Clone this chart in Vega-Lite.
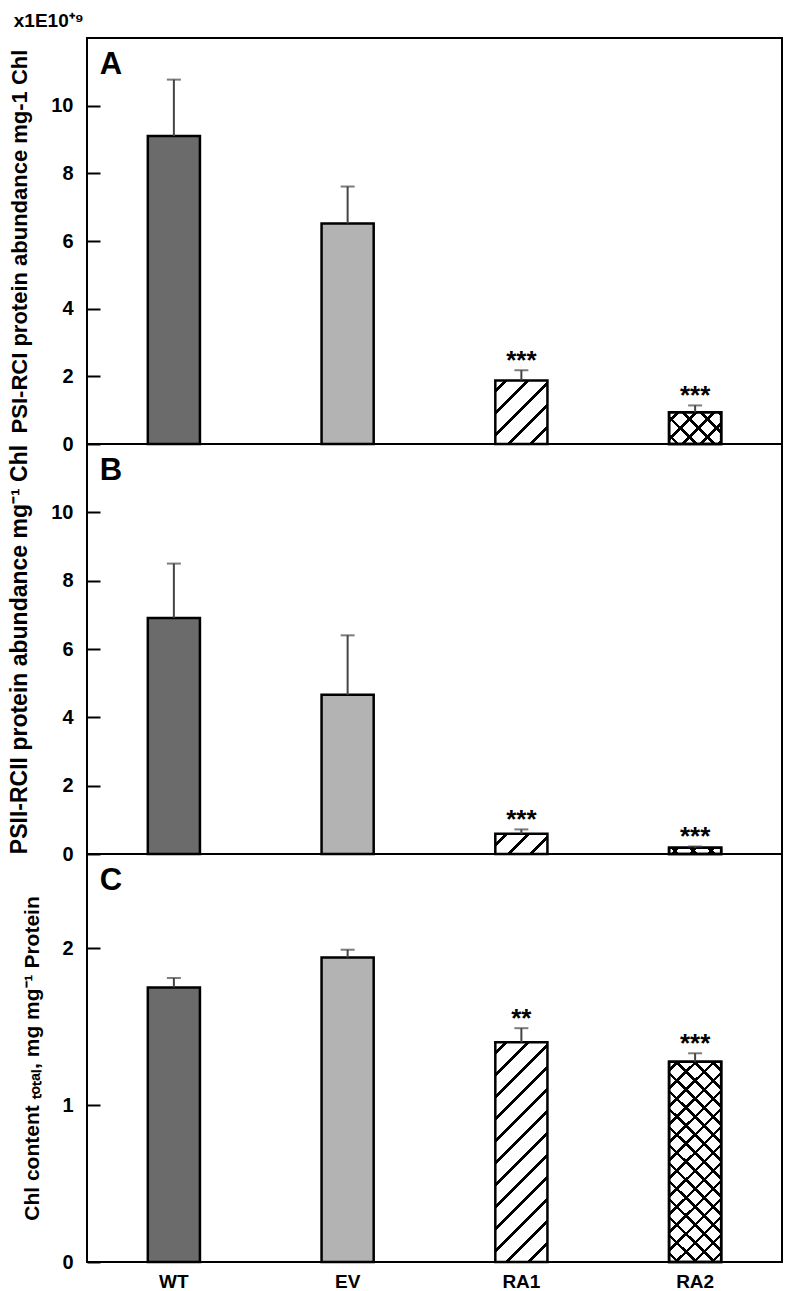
{
  "$schema": "https://vega.github.io/schema/vega-lite/v6.json",
  "padding": {"left": 7, "top": 12, "right": 8, "bottom": 2},
  "background": "white",
  "spacing": 0,
  "bounds": "flush",
  "title": {"text": "x1E10⁺⁹", "anchor": "start", "frame": "bounds", "fontSize": 19, "font": "Liberation Sans", "fontWeight": "bold", "color": "black", "offset": 6, "dx": 6},
  "config": {
    "font": "Liberation Sans",
    "view": {"stroke": "black", "strokeWidth": 2},
    "axis": {
      "labelFont": "Liberation Sans", "labelFontWeight": "bold", "labelFontSize": 20, "labelColor": "black",
      "titleFont": "Liberation Sans", "titleFontWeight": "bold", "titleFontSize": 21, "titleColor": "black",
      "domain": false, "grid": false, "tickColor": "black", "tickWidth": 2, "tickSize": -13, "labelPadding": 27, "titlePadding": 19
    }
  },
  "datasets": {
    "d": [
      {"panel": "A", "g": "WT", "v": 9.10, "e": 10.77, "sig": "", "lab": "A"},
      {"panel": "A", "g": "EV", "v": 6.52, "e": 7.61, "sig": "", "lab": ""},
      {"panel": "A", "g": "RA1", "v": 1.88, "e": 2.18, "sig": "***", "lab": ""},
      {"panel": "A", "g": "RA2", "v": 0.94, "e": 1.14, "sig": "***", "lab": ""},
      {"panel": "B", "g": "WT", "v": 6.91, "e": 8.50, "sig": "", "lab": "B"},
      {"panel": "B", "g": "EV", "v": 4.66, "e": 6.40, "sig": "", "lab": ""},
      {"panel": "B", "g": "RA1", "v": 0.59, "e": 0.72, "sig": "***", "lab": ""},
      {"panel": "B", "g": "RA2", "v": 0.18, "e": 0.22, "sig": "***", "lab": ""},
      {"panel": "C", "g": "WT", "v": 1.75, "e": 1.81, "sig": "", "lab": "C"},
      {"panel": "C", "g": "EV", "v": 1.94, "e": 1.99, "sig": "", "lab": ""},
      {"panel": "C", "g": "RA1", "v": 1.40, "e": 1.49, "sig": "**", "lab": ""},
      {"panel": "C", "g": "RA2", "v": 1.276, "e": 1.33, "sig": "***", "lab": ""}
    ]
  },
  "vconcat": [
    {
      "width": 695, "height": 406,
      "data": {"name": "d"},
      "transform": [{"filter": "datum.panel === 'A'"}],
      "encoding": {"x": {"field": "g", "type": "nominal", "scale": {"domain": ["WT", "EV", "RA1", "RA2"], "paddingInner": 0.7, "paddingOuter": 0.35}, "axis": null}},
      "layer": [
        {"transform": [{"filter": "datum.g === 'WT' || datum.g === 'EV'"}],
         "mark": {"type": "bar", "stroke": "black", "strokeWidth": 2.5},
         "encoding": {
           "y": {"field": "v", "type": "quantitative", "scale": {"domain": [0, 12], "nice": false}, "axis": {"title": "PSI-RCI protein abundance mg-1 Chl", "titleFontSize": 22, "values": [0, 2, 4, 6, 8, 10]}},
           "fill": {"condition": {"test": "datum.g === 'WT'", "value": "#6b6b6b"}, "value": "#b3b3b3"}}},
        {"transform": [{"filter": "datum.g === 'RA1'"}],
         "mark": {"type": "bar", "stroke": "black", "strokeWidth": 2.5,
           "fill": {"gradient": "linear", "x1": 0, "y1": 0, "x2": 0.891, "y2": 1.089, "stops": [
             {"offset": 0, "color": "#fff"}, {"offset": 0.077, "color": "#fff"}, {"offset": 0.077, "color": "#000"}, {"offset": 0.1133, "color": "#000"}, {"offset": 0.1133, "color": "#fff"},
             {"offset": 0.2673, "color": "#fff"}, {"offset": 0.2673, "color": "#000"}, {"offset": 0.3036, "color": "#000"}, {"offset": 0.3036, "color": "#fff"},
             {"offset": 0.4576, "color": "#fff"}, {"offset": 0.4576, "color": "#000"}, {"offset": 0.4939, "color": "#000"}, {"offset": 0.4939, "color": "#fff"},
             {"offset": 0.6479, "color": "#fff"}, {"offset": 0.6479, "color": "#000"}, {"offset": 0.6843, "color": "#000"}, {"offset": 0.6843, "color": "#fff"},
             {"offset": 0.8382, "color": "#fff"}, {"offset": 0.8382, "color": "#000"}, {"offset": 0.8746, "color": "#000"}, {"offset": 0.8746, "color": "#fff"},
             {"offset": 1, "color": "#fff"}]}},
         "encoding": {"y": {"field": "v", "type": "quantitative"}}},
        {"transform": [{"filter": "datum.g === 'RA2'"}],
         "mark": {"type": "bar", "stroke": "black", "strokeWidth": 2.5,
           "fill": {"gradient": "linear", "x1": 0, "y1": 0, "x2": 1.173, "y2": 0.7173, "stops": [
             {"offset": 0, "color": "#fff"}, {"offset": 0.0847, "color": "#fff"}, {"offset": 0.0847, "color": "#000"}, {"offset": 0.1301, "color": "#000"}, {"offset": 0.1301, "color": "#fff"},
             {"offset": 0.2995, "color": "#fff"}, {"offset": 0.2995, "color": "#000"}, {"offset": 0.3449, "color": "#000"}, {"offset": 0.3449, "color": "#fff"},
             {"offset": 0.5143, "color": "#fff"}, {"offset": 0.5143, "color": "#000"}, {"offset": 0.5597, "color": "#000"}, {"offset": 0.5597, "color": "#fff"},
             {"offset": 0.7291, "color": "#fff"}, {"offset": 0.7291, "color": "#000"}, {"offset": 0.7745, "color": "#000"}, {"offset": 0.7745, "color": "#fff"},
             {"offset": 0.9439, "color": "#fff"}, {"offset": 0.9439, "color": "#000"}, {"offset": 0.9893, "color": "#000"}, {"offset": 0.9893, "color": "#fff"},
             {"offset": 1, "color": "#fff"}]}},
         "encoding": {"y": {"field": "v", "type": "quantitative"}}},
        {"transform": [{"filter": "datum.g === 'RA2'"}],
         "mark": {"type": "bar", "stroke": "black", "strokeWidth": 2.5,
           "fill": {"gradient": "linear", "x1": 0, "y1": 1, "x2": 1.173, "y2": 0.2827, "stops": [
             {"offset": 0, "color": "rgba(0,0,0,0)"}, {"offset": 0.0847, "color": "rgba(0,0,0,0)"}, {"offset": 0.0847, "color": "#000"}, {"offset": 0.1301, "color": "#000"}, {"offset": 0.1301, "color": "rgba(0,0,0,0)"},
             {"offset": 0.2995, "color": "rgba(0,0,0,0)"}, {"offset": 0.2995, "color": "#000"}, {"offset": 0.3449, "color": "#000"}, {"offset": 0.3449, "color": "rgba(0,0,0,0)"},
             {"offset": 0.5143, "color": "rgba(0,0,0,0)"}, {"offset": 0.5143, "color": "#000"}, {"offset": 0.5597, "color": "#000"}, {"offset": 0.5597, "color": "rgba(0,0,0,0)"},
             {"offset": 0.7291, "color": "rgba(0,0,0,0)"}, {"offset": 0.7291, "color": "#000"}, {"offset": 0.7745, "color": "#000"}, {"offset": 0.7745, "color": "rgba(0,0,0,0)"},
             {"offset": 0.9439, "color": "rgba(0,0,0,0)"}, {"offset": 0.9439, "color": "#000"}, {"offset": 0.9893, "color": "#000"}, {"offset": 0.9893, "color": "rgba(0,0,0,0)"},
             {"offset": 1, "color": "rgba(0,0,0,0)"}]}},
         "encoding": {"y": {"field": "v", "type": "quantitative"}}},
        {"mark": {"type": "rule", "color": "#444", "strokeWidth": 2},
         "encoding": {"y": {"field": "v", "type": "quantitative"}, "y2": {"field": "e"}}},
        {"mark": {"type": "tick", "color": "#444", "thickness": 2, "size": 14},
         "encoding": {"y": {"field": "e", "type": "quantitative"}}},
        {"mark": {"type": "text", "fontSize": 26, "fontWeight": "bold", "color": "black", "baseline": "alphabetic", "dy": -1},
         "encoding": {"y": {"field": "e", "type": "quantitative"}, "text": {"field": "sig"}}},
        {"transform": [{"filter": "datum.g === 'WT'"}],
         "mark": {"type": "text", "fontSize": 31, "fontWeight": "bold", "color": "black", "align": "left", "baseline": "alphabetic"},
         "encoding": {"x": {"field": "g", "type": "nominal", "bandPosition": -0.92}, "y": {"datum": 10.94, "type": "quantitative"}, "text": {"field": "lab"}}}
      ]
    },
    {
      "width": 695, "height": 410,
      "data": {"name": "d"},
      "transform": [{"filter": "datum.panel === 'B'"}],
      "encoding": {"x": {"field": "g", "type": "nominal", "scale": {"domain": ["WT", "EV", "RA1", "RA2"], "paddingInner": 0.7, "paddingOuter": 0.35}, "axis": null}},
      "layer": [
        {"transform": [{"filter": "datum.g === 'WT' || datum.g === 'EV'"}],
         "mark": {"type": "bar", "stroke": "black", "strokeWidth": 2.5},
         "encoding": {
           "y": {"field": "v", "type": "quantitative", "scale": {"domain": [0, 12], "nice": false}, "axis": {"title": "PSII-RCII protein abundance mg⁻¹ Chl", "titleFontSize": 23, "values": [0, 2, 4, 6, 8, 10]}},
           "fill": {"condition": {"test": "datum.g === 'WT'", "value": "#6b6b6b"}, "value": "#b3b3b3"}}},
        {"transform": [{"filter": "datum.g === 'RA1'"}],
         "mark": {"type": "bar", "stroke": "black", "strokeWidth": 2.5,
           "fill": {"gradient": "linear", "x1": 0, "y1": 0, "x2": 1.2072, "y2": 0.468, "stops": [
             {"offset": 0, "color": "#fff"}, {"offset": 0.1233, "color": "#fff"}, {"offset": 0.1233, "color": "#000"}, {"offset": 0.1815, "color": "#000"}, {"offset": 0.1815, "color": "#fff"},
             {"offset": 0.428, "color": "#fff"}, {"offset": 0.428, "color": "#000"}, {"offset": 0.4861, "color": "#000"}, {"offset": 0.4861, "color": "#fff"},
             {"offset": 0.7327, "color": "#fff"}, {"offset": 0.7327, "color": "#000"}, {"offset": 0.7909, "color": "#000"}, {"offset": 0.7909, "color": "#fff"},
             {"offset": 1, "color": "#fff"}]}},
         "encoding": {"y": {"field": "v", "type": "quantitative"}}},
        {"transform": [{"filter": "datum.g === 'RA2'"}],
         "mark": {"type": "bar", "stroke": "black", "strokeWidth": 2.5,
           "fill": {"gradient": "linear", "x1": 0, "y1": 0, "x2": 1.1029, "y2": 0.1304, "stops": [
             {"offset": 0, "color": "#fff"}, {"offset": 0.1221, "color": "#fff"}, {"offset": 0.1221, "color": "#000"}, {"offset": 0.1875, "color": "#000"}, {"offset": 0.1875, "color": "#fff"},
             {"offset": 0.4316, "color": "#fff"}, {"offset": 0.4316, "color": "#000"}, {"offset": 0.497, "color": "#000"}, {"offset": 0.497, "color": "#fff"},
             {"offset": 0.7412, "color": "#fff"}, {"offset": 0.7412, "color": "#000"}, {"offset": 0.8066, "color": "#000"}, {"offset": 0.8066, "color": "#fff"},
             {"offset": 1, "color": "#fff"}]}},
         "encoding": {"y": {"field": "v", "type": "quantitative"}}},
        {"transform": [{"filter": "datum.g === 'RA2'"}],
         "mark": {"type": "bar", "stroke": "black", "strokeWidth": 2.5,
           "fill": {"gradient": "linear", "x1": 0, "y1": 1, "x2": 1.1029, "y2": 0.8696, "stops": [
             {"offset": 0, "color": "rgba(0,0,0,0)"}, {"offset": 0.1221, "color": "rgba(0,0,0,0)"}, {"offset": 0.1221, "color": "#000"}, {"offset": 0.1875, "color": "#000"}, {"offset": 0.1875, "color": "rgba(0,0,0,0)"},
             {"offset": 0.4316, "color": "rgba(0,0,0,0)"}, {"offset": 0.4316, "color": "#000"}, {"offset": 0.497, "color": "#000"}, {"offset": 0.497, "color": "rgba(0,0,0,0)"},
             {"offset": 0.7412, "color": "rgba(0,0,0,0)"}, {"offset": 0.7412, "color": "#000"}, {"offset": 0.8066, "color": "#000"}, {"offset": 0.8066, "color": "rgba(0,0,0,0)"},
             {"offset": 1, "color": "rgba(0,0,0,0)"}]}},
         "encoding": {"y": {"field": "v", "type": "quantitative"}}},
        {"mark": {"type": "rule", "color": "#444", "strokeWidth": 2},
         "encoding": {"y": {"field": "v", "type": "quantitative"}, "y2": {"field": "e"}}},
        {"mark": {"type": "tick", "color": "#444", "thickness": 2, "size": 14},
         "encoding": {"y": {"field": "e", "type": "quantitative"}}},
        {"mark": {"type": "text", "fontSize": 26, "fontWeight": "bold", "color": "black", "baseline": "alphabetic", "dy": -1},
         "encoding": {"y": {"field": "e", "type": "quantitative"}, "text": {"field": "sig"}}},
        {"transform": [{"filter": "datum.g === 'WT'"}],
         "mark": {"type": "text", "fontSize": 31, "fontWeight": "bold", "color": "black", "align": "left", "baseline": "alphabetic"},
         "encoding": {"x": {"field": "g", "type": "nominal", "bandPosition": -0.92}, "y": {"datum": 10.95, "type": "quantitative"}, "text": {"field": "lab"}}}
      ]
    },
    {
      "width": 695, "height": 408,
      "data": {"name": "d"},
      "transform": [{"filter": "datum.panel === 'C'"}],
      "encoding": {"x": {"field": "g", "type": "nominal", "scale": {"domain": ["WT", "EV", "RA1", "RA2"], "paddingInner": 0.7, "paddingOuter": 0.35},
        "axis": {"title": null, "labelAngle": 0, "ticks": false, "domain": false, "labelFontSize": 19, "labelPadding": 10}}},
      "layer": [
        {"transform": [{"filter": "datum.g === 'WT' || datum.g === 'EV'"}],
         "mark": {"type": "bar", "stroke": "black", "strokeWidth": 2.5},
         "encoding": {
           "y": {"field": "v", "type": "quantitative", "scale": {"domain": [0, 2.6], "nice": false}, "axis": {"title": "Chl content ₜₒₜₐₗ, mg mg⁻¹ Protein", "titleFontSize": 21, "values": [0, 1, 2], "format": "d"}},
           "fill": {"condition": {"test": "datum.g === 'WT'", "value": "#6b6b6b"}, "value": "#b3b3b3"}}},
        {"transform": [{"filter": "datum.g === 'RA1'"}],
         "mark": {"type": "bar", "stroke": "black", "strokeWidth": 2.5,
           "fill": {"gradient": "linear", "x1": 0, "y1": 0, "x2": 0.2772, "y2": 1.1711, "stops": [
             {"offset": 0, "color": "#fff"},
             {"offset": 0.0328, "color": "#fff"}, {"offset": 0.0328, "color": "#000"}, {"offset": 0.0482, "color": "#000"}, {"offset": 0.0482, "color": "#fff"},
             {"offset": 0.1138, "color": "#fff"}, {"offset": 0.1138, "color": "#000"}, {"offset": 0.1292, "color": "#000"}, {"offset": 0.1292, "color": "#fff"},
             {"offset": 0.1947, "color": "#fff"}, {"offset": 0.1947, "color": "#000"}, {"offset": 0.2102, "color": "#000"}, {"offset": 0.2102, "color": "#fff"},
             {"offset": 0.2757, "color": "#fff"}, {"offset": 0.2757, "color": "#000"}, {"offset": 0.2911, "color": "#000"}, {"offset": 0.2911, "color": "#fff"},
             {"offset": 0.3567, "color": "#fff"}, {"offset": 0.3567, "color": "#000"}, {"offset": 0.3721, "color": "#000"}, {"offset": 0.3721, "color": "#fff"},
             {"offset": 0.4376, "color": "#fff"}, {"offset": 0.4376, "color": "#000"}, {"offset": 0.4531, "color": "#000"}, {"offset": 0.4531, "color": "#fff"},
             {"offset": 0.5186, "color": "#fff"}, {"offset": 0.5186, "color": "#000"}, {"offset": 0.5341, "color": "#000"}, {"offset": 0.5341, "color": "#fff"},
             {"offset": 0.5996, "color": "#fff"}, {"offset": 0.5996, "color": "#000"}, {"offset": 0.615, "color": "#000"}, {"offset": 0.615, "color": "#fff"},
             {"offset": 0.6805, "color": "#fff"}, {"offset": 0.6805, "color": "#000"}, {"offset": 0.696, "color": "#000"}, {"offset": 0.696, "color": "#fff"},
             {"offset": 0.7615, "color": "#fff"}, {"offset": 0.7615, "color": "#000"}, {"offset": 0.777, "color": "#000"}, {"offset": 0.777, "color": "#fff"},
             {"offset": 0.8425, "color": "#fff"}, {"offset": 0.8425, "color": "#000"}, {"offset": 0.8579, "color": "#000"}, {"offset": 0.8579, "color": "#fff"},
             {"offset": 0.9234, "color": "#fff"}, {"offset": 0.9234, "color": "#000"}, {"offset": 0.9389, "color": "#000"}, {"offset": 0.9389, "color": "#fff"},
             {"offset": 1, "color": "#fff"}]}},
         "encoding": {"y": {"field": "v", "type": "quantitative"}}},
        {"transform": [{"filter": "datum.g === 'RA2'"}],
         "mark": {"type": "bar", "stroke": "black", "strokeWidth": 2.5,
           "fill": {"gradient": "linear", "x1": 0, "y1": 0, "x2": 0.3065, "y2": 1.1801, "stops": [
             {"offset": 0, "color": "#fff"},
             {"offset": 0.0282, "color": "#fff"}, {"offset": 0.0282, "color": "#000"}, {"offset": 0.0432, "color": "#000"}, {"offset": 0.0432, "color": "#fff"},
             {"offset": 0.0996, "color": "#fff"}, {"offset": 0.0996, "color": "#000"}, {"offset": 0.1146, "color": "#000"}, {"offset": 0.1146, "color": "#fff"},
             {"offset": 0.1709, "color": "#fff"}, {"offset": 0.1709, "color": "#000"}, {"offset": 0.1859, "color": "#000"}, {"offset": 0.1859, "color": "#fff"},
             {"offset": 0.2423, "color": "#fff"}, {"offset": 0.2423, "color": "#000"}, {"offset": 0.2573, "color": "#000"}, {"offset": 0.2573, "color": "#fff"},
             {"offset": 0.3137, "color": "#fff"}, {"offset": 0.3137, "color": "#000"}, {"offset": 0.3287, "color": "#000"}, {"offset": 0.3287, "color": "#fff"},
             {"offset": 0.385, "color": "#fff"}, {"offset": 0.385, "color": "#000"}, {"offset": 0.4, "color": "#000"}, {"offset": 0.4, "color": "#fff"},
             {"offset": 0.4564, "color": "#fff"}, {"offset": 0.4564, "color": "#000"}, {"offset": 0.4714, "color": "#000"}, {"offset": 0.4714, "color": "#fff"},
             {"offset": 0.5278, "color": "#fff"}, {"offset": 0.5278, "color": "#000"}, {"offset": 0.5428, "color": "#000"}, {"offset": 0.5428, "color": "#fff"},
             {"offset": 0.5992, "color": "#fff"}, {"offset": 0.5992, "color": "#000"}, {"offset": 0.6142, "color": "#000"}, {"offset": 0.6142, "color": "#fff"},
             {"offset": 0.6705, "color": "#fff"}, {"offset": 0.6705, "color": "#000"}, {"offset": 0.6855, "color": "#000"}, {"offset": 0.6855, "color": "#fff"},
             {"offset": 0.7419, "color": "#fff"}, {"offset": 0.7419, "color": "#000"}, {"offset": 0.7569, "color": "#000"}, {"offset": 0.7569, "color": "#fff"},
             {"offset": 0.8133, "color": "#fff"}, {"offset": 0.8133, "color": "#000"}, {"offset": 0.8283, "color": "#000"}, {"offset": 0.8283, "color": "#fff"},
             {"offset": 0.8846, "color": "#fff"}, {"offset": 0.8846, "color": "#000"}, {"offset": 0.8996, "color": "#000"}, {"offset": 0.8996, "color": "#fff"},
             {"offset": 0.956, "color": "#fff"}, {"offset": 0.956, "color": "#000"}, {"offset": 0.971, "color": "#000"}, {"offset": 0.971, "color": "#fff"},
             {"offset": 1, "color": "#fff"}]}},
         "encoding": {"y": {"field": "v", "type": "quantitative"}}},
        {"transform": [{"filter": "datum.g === 'RA2'"}],
         "mark": {"type": "bar", "stroke": "black", "strokeWidth": 2.5,
           "fill": {"gradient": "linear", "x1": 0, "y1": 1, "x2": 0.3065, "y2": -0.1801, "stops": [
             {"offset": 0, "color": "rgba(0,0,0,0)"},
             {"offset": 0.0282, "color": "rgba(0,0,0,0)"}, {"offset": 0.0282, "color": "#000"}, {"offset": 0.0432, "color": "#000"}, {"offset": 0.0432, "color": "rgba(0,0,0,0)"},
             {"offset": 0.0996, "color": "rgba(0,0,0,0)"}, {"offset": 0.0996, "color": "#000"}, {"offset": 0.1146, "color": "#000"}, {"offset": 0.1146, "color": "rgba(0,0,0,0)"},
             {"offset": 0.1709, "color": "rgba(0,0,0,0)"}, {"offset": 0.1709, "color": "#000"}, {"offset": 0.1859, "color": "#000"}, {"offset": 0.1859, "color": "rgba(0,0,0,0)"},
             {"offset": 0.2423, "color": "rgba(0,0,0,0)"}, {"offset": 0.2423, "color": "#000"}, {"offset": 0.2573, "color": "#000"}, {"offset": 0.2573, "color": "rgba(0,0,0,0)"},
             {"offset": 0.3137, "color": "rgba(0,0,0,0)"}, {"offset": 0.3137, "color": "#000"}, {"offset": 0.3287, "color": "#000"}, {"offset": 0.3287, "color": "rgba(0,0,0,0)"},
             {"offset": 0.385, "color": "rgba(0,0,0,0)"}, {"offset": 0.385, "color": "#000"}, {"offset": 0.4, "color": "#000"}, {"offset": 0.4, "color": "rgba(0,0,0,0)"},
             {"offset": 0.4564, "color": "rgba(0,0,0,0)"}, {"offset": 0.4564, "color": "#000"}, {"offset": 0.4714, "color": "#000"}, {"offset": 0.4714, "color": "rgba(0,0,0,0)"},
             {"offset": 0.5278, "color": "rgba(0,0,0,0)"}, {"offset": 0.5278, "color": "#000"}, {"offset": 0.5428, "color": "#000"}, {"offset": 0.5428, "color": "rgba(0,0,0,0)"},
             {"offset": 0.5992, "color": "rgba(0,0,0,0)"}, {"offset": 0.5992, "color": "#000"}, {"offset": 0.6142, "color": "#000"}, {"offset": 0.6142, "color": "rgba(0,0,0,0)"},
             {"offset": 0.6705, "color": "rgba(0,0,0,0)"}, {"offset": 0.6705, "color": "#000"}, {"offset": 0.6855, "color": "#000"}, {"offset": 0.6855, "color": "rgba(0,0,0,0)"},
             {"offset": 0.7419, "color": "rgba(0,0,0,0)"}, {"offset": 0.7419, "color": "#000"}, {"offset": 0.7569, "color": "#000"}, {"offset": 0.7569, "color": "rgba(0,0,0,0)"},
             {"offset": 0.8133, "color": "rgba(0,0,0,0)"}, {"offset": 0.8133, "color": "#000"}, {"offset": 0.8283, "color": "#000"}, {"offset": 0.8283, "color": "rgba(0,0,0,0)"},
             {"offset": 0.8846, "color": "rgba(0,0,0,0)"}, {"offset": 0.8846, "color": "#000"}, {"offset": 0.8996, "color": "#000"}, {"offset": 0.8996, "color": "rgba(0,0,0,0)"},
             {"offset": 0.956, "color": "rgba(0,0,0,0)"}, {"offset": 0.956, "color": "#000"}, {"offset": 0.971, "color": "#000"}, {"offset": 0.971, "color": "rgba(0,0,0,0)"},
             {"offset": 1, "color": "rgba(0,0,0,0)"}]}},
         "encoding": {"y": {"field": "v", "type": "quantitative"}}},
        {"mark": {"type": "rule", "color": "#444", "strokeWidth": 2},
         "encoding": {"y": {"field": "v", "type": "quantitative"}, "y2": {"field": "e"}}},
        {"mark": {"type": "tick", "color": "#444", "thickness": 2, "size": 14},
         "encoding": {"y": {"field": "e", "type": "quantitative"}}},
        {"mark": {"type": "text", "fontSize": 26, "fontWeight": "bold", "color": "black", "baseline": "alphabetic", "dy": -1},
         "encoding": {"y": {"field": "e", "type": "quantitative"}, "text": {"field": "sig"}}},
        {"transform": [{"filter": "datum.g === 'WT'"}],
         "mark": {"type": "text", "fontSize": 31, "fontWeight": "bold", "color": "black", "align": "left", "baseline": "alphabetic"},
         "encoding": {"x": {"field": "g", "type": "nominal", "bandPosition": -0.92}, "y": {"datum": 2.371, "type": "quantitative"}, "text": {"field": "lab"}}}
      ]
    }
  ]
}
